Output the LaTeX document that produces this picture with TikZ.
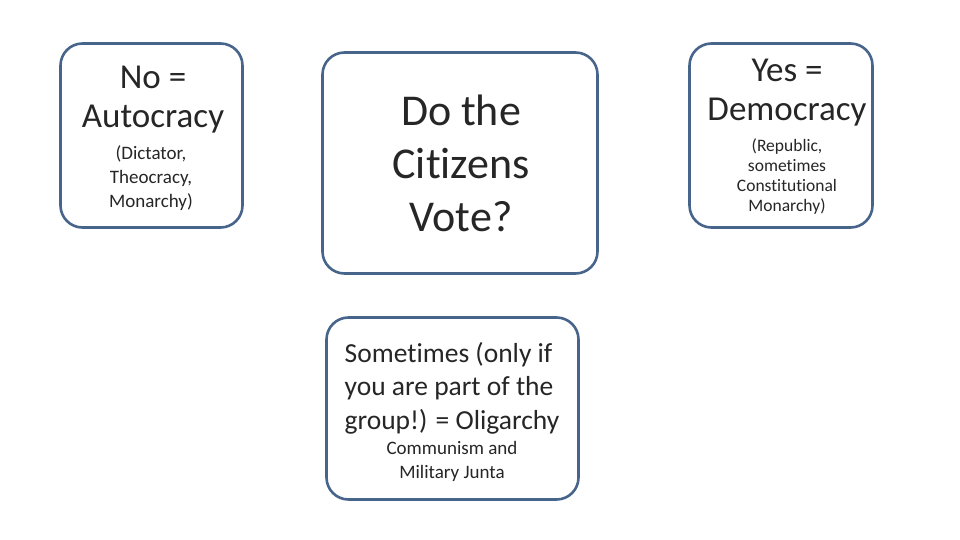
\documentclass[tikz,border=0pt]{standalone}
\usepackage{fontspec}
\setmainfont[Ligatures=NoCommon]{Carlito}
\begin{document}
\begin{tikzpicture}[x=1pt,y=-1pt,
  box/.style={draw={rgb,255:red,71;green,100;blue,138},line width=2.6pt,rounded corners=22pt,fill=white,inner sep=0pt},
  big/.style={font=\fontsize{35}{39}\selectfont,align=center,text=black!85},
  huge/.style={font=\fontsize{44}{53}\selectfont,align=center,text=black!85},
  mid/.style={font=\fontsize{27.5}{33.5}\selectfont,align=left,text=black!85},
  small/.style={font=\fontsize{19}{24}\selectfont,align=center,text=black!85},
  tiny/.style={font=\fontsize{17.5}{20}\selectfont,align=center,text=black!85}]
\useasboundingbox (0,0) rectangle (960,540);
\node[box,minimum width=182pt,minimum height=184pt] (L) at (151.5,135.5) {};
\node[box,minimum width=275pt,minimum height=221pt] (C) at (460,163) {};
\node[box,minimum width=183pt,minimum height=184pt] (R) at (781,135.5) {};
\node[box,minimum width=252pt,minimum height=182pt] (B) at (452.5,408.5) {};
\node[big] (Lt) at (153,100) {No =\\Autocracy};
\node[small] (Ls) at (151,178) {(Dictator,\\Theocracy,\\Monarchy)};
\node[huge] (Ct) at (461,163) {Do the\\Citizens\\Vote?};
\node[big] (Rt) at (787,93) {Yes =\\Democracy};
\node[tiny] (Rs) at (787,177) {(Republic,\\sometimes\\Constitutional\\Monarchy)};
\node[mid] (Bt) at (452,388) {Sometimes (only if\\you are part of the\\group!) = Oligarchy};
\node[small] (Bs) at (452,461) {Communism and\\Military Junta};
\end{tikzpicture}
\end{document}
